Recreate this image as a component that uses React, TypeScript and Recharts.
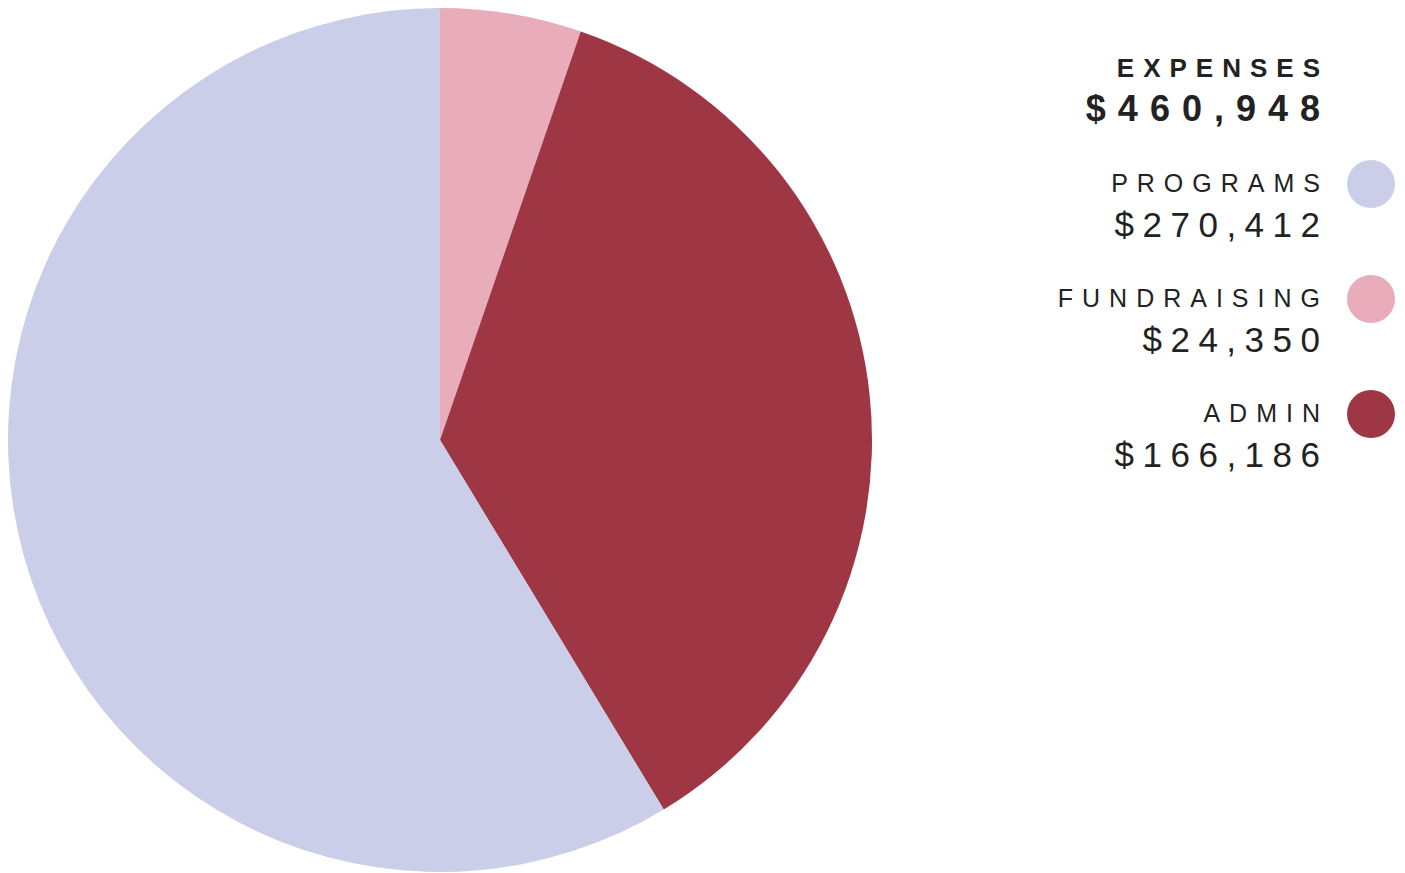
import { PieChart, Pie, Cell, Legend } from "recharts";

const categories = ["FUNDRAISING", "ADMIN", "PROGRAMS"];
const amounts = [24350, 166186, 270412];
const colors = ["#E8ACBA", "#9E3644", "#CBCEE8"];
const legendOrder = ["PROGRAMS", "FUNDRAISING", "ADMIN"];
const totalLabel = "EXPENSES";

const data = categories.map((name, i) => ({ name, value: amounts[i], color: colors[i] }));
const total = amounts.reduce((a, b) => a + b, 0);

const fmt = (v: number) => "$" + v.toLocaleString("en-US");

const FONT = "'Liberation Sans', Arial, Helvetica, sans-serif";
const TEXT = "#222222";

function ExpenseLegend() {
  const right = 1312;
  return (
    <svg width={1397} height={500} style={{ display: "block" }}>
      <text x={right + 9} y={69} textAnchor="end" fontFamily={FONT} fontWeight="bold" fontSize={26} letterSpacing={9} fill={TEXT}>
        {totalLabel}
      </text>
      <text x={right + 12} y={113} textAnchor="end" fontFamily={FONT} fontWeight="bold" fontSize={36} letterSpacing={12} fill={TEXT}>
        {fmt(total)}
      </text>
      {legendOrder.map((name, i) => {
        const d = data.find((x) => x.name === name)!;
        const y = 184 + i * 115;
        return (
          <g key={name}>
            <text x={right + 9} y={y} textAnchor="end" fontFamily={FONT} fontSize={25} letterSpacing={9} fill={TEXT}>
              {name}
            </text>
            <text x={right + 8.5} y={y + 45} textAnchor="end" fontFamily={FONT} fontSize={35} letterSpacing={8.5} fill={TEXT}>
              {fmt(d.value)}
            </text>
            <circle cx={1363} cy={y - 8} r={24} fill={d.color} />
          </g>
        );
      })}
    </svg>
  );
}

export default function App() {
  return (
    <PieChart width={1397} height={865} margin={{ top: 0, right: 0, bottom: 0, left: 0 }}>
      <Pie
        data={data}
        dataKey="value"
        nameKey="name"
        cx={432}
        cy={432}
        innerRadius={0}
        outerRadius={432}
        startAngle={90}
        endAngle={-270}
        stroke="none"
        isAnimationActive={false}
      >
        {data.map((entry, index) => (
          <Cell key={`cell-${index}`} fill={entry.color} />
        ))}
      </Pie>
      <Legend
        content={() => <ExpenseLegend />}
        wrapperStyle={{ position: "absolute", top: 0, left: 0, width: 1397, height: 500 }}
      />
    </PieChart>
  );
}
